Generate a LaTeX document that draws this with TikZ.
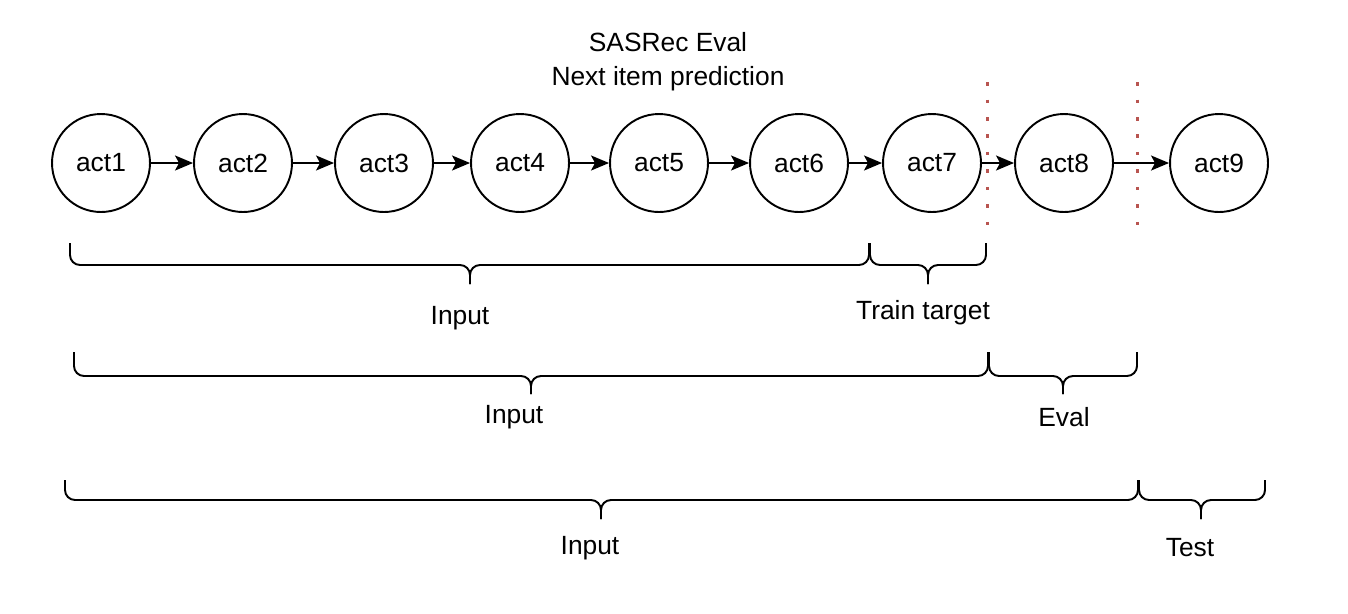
\documentclass[tikz,border=0pt]{standalone}
\usepackage{fontspec}
\setmainfont{Liberation Sans}
\usetikzlibrary{arrows.meta}
\tikzset{
  act/.style={circle, draw=black, line width=1.1pt, minimum size=1.96cm, inner sep=0pt, font=\fontsize{15}{18}\selectfont},
  conn/.style={line width=1.1pt, -{Stealth[length=0.36cm, width=0.3cm, inset=0.08cm]}},
  brc/.style={line width=1.1pt, rounded corners=0.2cm},
  lbl/.style={font=\fontsize{15}{18}\selectfont, inner sep=0pt},
  sep/.style={line width=1.7pt, draw={rgb,255:red,184;green,84;blue,80}, dash pattern=on 0.07cm off 0.28cm}
}
\newcommand{\mybrace}[6]{% x1 x2 xm top flat tip
  \draw[brc] (#1,#4) |- (#3,#5) -- (#3,#6);
  \draw[brc] (#2,#4) |- (#3,#5) -- (#3,#6);
}
\begin{document}
\begin{tikzpicture}[x=0.02cm, y=-0.02cm]
\useasboundingbox (0,0) rectangle (1348,613);
\node[lbl, align=center] (title) at (668,62) {SASRec Eval\\[0.05cm]Next item prediction};
\node[act] (a1) at (101,163) {act1};
\node[act] (a2) at (243,163) {act2};
\node[act] (a3) at (384,163) {act3};
\node[act] (a4) at (520,163) {act4};
\node[act] (a5) at (659,163) {act5};
\node[act] (a6) at (799,163) {act6};
\node[act] (a7) at (932,163) {act7};
\node[act] (a8) at (1064,163) {act8};
\node[act] (a9) at (1219,163) {act9};
\foreach \i/\j in {a1/a2,a2/a3,a3/a4,a4/a5,a5/a6,a6/a7,a7/a8,a8/a9}
  \draw[conn] (\i) -- (\j);
\coordinate (s1t) at (987,82);
\coordinate (s1b) at (987,226);
\coordinate (s2t) at (1137,82);
\coordinate (s2b) at (1137,226);
\draw[sep] (s1t) -- (s1b);
\draw[sep] (s2t) -- (s2b);
% row 1
\mybrace{70}{869}{470}{243}{265}{284}
\mybrace{870}{986}{928}{243}{265}{284}
\node[lbl] (in1) at (460,318) {Input};
\node[lbl] (tt) at (923,313) {Train target};
% row 2
\mybrace{74}{988}{531}{352}{376}{394}
\mybrace{989}{1137}{1063}{352}{376}{394}
\node[lbl] (in2) at (514,417) {Input};
\node[lbl] (ev) at (1064,417) {Eval};
% row 3
\mybrace{65}{1138}{601}{480}{500}{519}
\mybrace{1139}{1265}{1201}{480}{500}{519}
\node[lbl] (in3) at (590,548) {Input};
\node[lbl] (te) at (1190,548) {Test};
\end{tikzpicture}
\end{document}
